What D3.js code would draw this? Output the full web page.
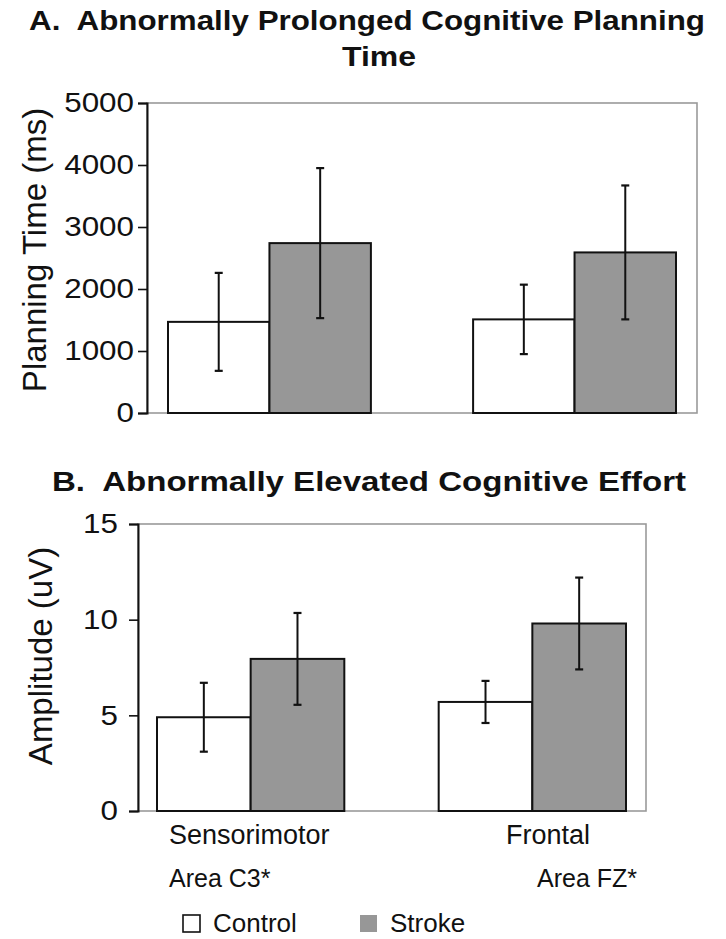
<!DOCTYPE html>
<html><head><meta charset="utf-8">
<script src="https://cdn.jsdelivr.net/npm/d3@7"></script>
<style>body{margin:0;background:#fff}svg{display:block}text{font-family:"Liberation Sans",Arial,sans-serif;fill:#111}</style>
</head><body><svg id="c" width="726" height="939"></svg>
<script>
const categories = ["Sensorimotor", "Frontal"];
const categorySub = ["Area C3*", "Area FZ*"];
const series = ["Control", "Stroke"];
const planningCtrl = [1470, 1510];
const planningStroke = [2740, 2590];
const planningErrCtrl = [790, 560];
const planningErrStroke = [1210, 1080];
const ampCtrl = [4.9, 5.7];
const ampStroke = [7.95, 9.8];
const ampErrCtrl = [1.8, 1.1];
const ampErrStroke = [2.4, 2.4];
const planningTicks = [0, 1000, 2000, 3000, 4000, 5000];
const ampTicks = [0, 5, 10, 15];
const colors = {Control: "#ffffff", Stroke: "#979797"};

const svg = d3.select("#c");

function panel(cfg) {
  const g = svg.append("g");
  const y = d3.scaleLinear().domain(cfg.domain).range([cfg.y0, cfg.y1]);
  const x = d3.scaleBand().domain(categories).range([cfg.gx0, cfg.gx1]).paddingInner(0.335).paddingOuter(0);
  const xs = d3.scaleBand().domain(series).range([0, x.bandwidth()]);
  g.append("rect").attr("x", cfg.px0).attr("y", cfg.y1).attr("width", cfg.px1 - cfg.px0).attr("height", cfg.y0 - cfg.y1)
    .attr("fill", "none").attr("stroke", "#9a9a9a").attr("stroke-width", 1.6);
  const data = [];
  categories.forEach((c, i) => {
    data.push({c, s: "Control", v: cfg.ctrl[i], e: cfg.ectrl[i]});
    data.push({c, s: "Stroke", v: cfg.str[i], e: cfg.estr[i]});
  });
  g.selectAll("rect.bar").data(data).enter().append("rect").attr("class", "bar")
    .attr("x", d => x(d.c) + xs(d.s)).attr("width", xs.bandwidth())
    .attr("y", d => y(d.v)).attr("height", d => y(0) - y(d.v))
    .attr("fill", d => colors[d.s]).attr("stroke", "#111").attr("stroke-width", 2);
  const eb = g.selectAll("g.err").data(data).enter().append("g").attr("class", "err")
    .attr("transform", d => `translate(${x(d.c) + xs(d.s) + xs.bandwidth() / 2},0)`);
  eb.append("line").attr("y1", d => y(d.v + d.e)).attr("y2", d => y(d.v - d.e)).attr("stroke", "#111").attr("stroke-width", 2);
  eb.append("line").attr("x1", -4).attr("x2", 4).attr("y1", d => y(d.v + d.e)).attr("y2", d => y(d.v + d.e)).attr("stroke", "#111").attr("stroke-width", 2.2);
  eb.append("line").attr("x1", -4).attr("x2", 4).attr("y1", d => y(d.v - d.e)).attr("y2", d => y(d.v - d.e)).attr("stroke", "#111").attr("stroke-width", 2.2);
  const ax = g.append("g").attr("transform", `translate(${cfg.px0},0)`)
    .call(d3.axisLeft(y).tickValues(cfg.ticks).tickSize(9).tickPadding(cfg.pad).tickFormat(d3.format("d")));
  ax.select(".domain").attr("stroke", "#111").attr("stroke-width", 2);
  ax.selectAll(".tick line").attr("stroke", "#111").attr("stroke-width", 1.6);
  ax.selectAll(".tick text").attr("font-size", 28).attr("fill", "#111").attr("font-family", "Liberation Sans, Arial, sans-serif")
    .each(function () { const w = this.getComputedTextLength(); d3.select(this).attr("textLength", w * 1.12).attr("lengthAdjust", "spacingAndGlyphs"); });
  g.append("text").attr("transform", `translate(${cfg.tx},${cfg.ty}) rotate(-90)`)
    .attr("text-anchor", "middle").attr("font-size", cfg.tfs).text(cfg.ytitle);
  return {x, y};
}

svg.append("text").attr("x", 29).attr("y", 30).attr("font-size", 27.5).attr("font-weight", "bold")
  .attr("textLength", 676).attr("lengthAdjust", "spacingAndGlyphs")
  .text("A.\u00a0 Abnormally Prolonged Cognitive Planning");
svg.append("text").attr("x", 342).attr("y", 66).attr("font-size", 27.5).attr("font-weight", "bold")
  .attr("textLength", 74).attr("lengthAdjust", "spacingAndGlyphs").text("Time");

panel({domain: [0, 5000], y0: 413, y1: 103, px0: 147, px1: 697, gx0: 168, gx1: 676,
  ctrl: planningCtrl, str: planningStroke, ectrl: planningErrCtrl, estr: planningErrStroke,
  ticks: planningTicks, ytitle: "Planning Time (ms)", tx: 46, ty: 250, tfs: 33, pad: 4});

svg.append("text").attr("x", 52).attr("y", 491).attr("font-size", 27.5).attr("font-weight", "bold")
  .attr("textLength", 634).attr("lengthAdjust", "spacingAndGlyphs")
  .text("B.\u00a0 Abnormally Elevated Cognitive Effort");

panel({domain: [0, 15], y0: 811, y1: 524, px0: 138, px1: 646, gx0: 157, gx1: 626,
  ctrl: ampCtrl, str: ampStroke, ectrl: ampErrCtrl, estr: ampErrStroke,
  ticks: ampTicks, ytitle: "Amplitude (uV)", tx: 52, ty: 656, tfs: 33, pad: 11});

svg.append("text").attr("x", 169).attr("y", 844).attr("font-size", 27).text(categories[0]);
svg.append("text").attr("x", 169).attr("y", 887).attr("font-size", 25).text(categorySub[0]);
svg.append("text").attr("x", 506).attr("y", 844).attr("font-size", 27).text(categories[1]);
svg.append("text").attr("x", 537).attr("y", 887).attr("font-size", 25).text(categorySub[1]);

const lg = svg.append("g");
series.forEach((s, i) => {
  const lx = [183, 360][i];
  lg.append("rect").attr("x", lx).attr("y", 915).attr("width", 17).attr("height", 17)
    .attr("fill", colors[s]).attr("stroke", s === "Control" ? "#111" : "none").attr("stroke-width", 1.6);
  lg.append("text").attr("x", lx + 30).attr("y", 932).attr("font-size", 26).text(s);
});
</script></body></html>
